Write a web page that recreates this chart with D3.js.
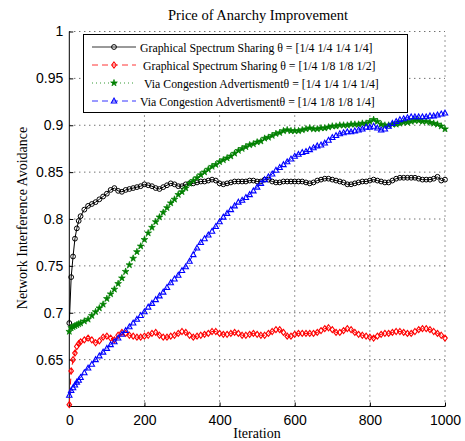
<!DOCTYPE html>
<html><head><meta charset="utf-8">
<script src="https://cdn.jsdelivr.net/npm/d3@7"></script>
<style>body{margin:0;background:#fff}svg{display:block}</style>
</head><body>
<script>
const iterations = [0,5,10,15,20,25,30,40,50,60,70,80,90,100,110,120,130,140,150,160,170,180,190,200,210,220,230,240,250,260,270,280,290,300,310,320,330,340,350,360,370,380,390,400,410,420,430,440,450,460,470,480,490,500,510,520,530,540,550,560,570,580,590,600,610,620,630,640,650,660,670,680,690,700,710,720,730,740,750,760,770,780,790,800,810,820,830,840,850,860,870,880,890,900,910,920,930,940,950,960,970,980,990,1000];
const gssEqual = [0.689,0.738,0.760,0.779,0.790,0.798,0.803,0.810,0.814,0.816,0.818,0.821,0.824,0.827,0.831,0.833,0.830,0.829,0.831,0.832,0.833,0.834,0.835,0.837,0.836,0.835,0.833,0.832,0.834,0.836,0.838,0.837,0.835,0.835,0.837,0.838,0.838,0.839,0.840,0.840,0.841,0.842,0.841,0.838,0.837,0.838,0.839,0.840,0.840,0.840,0.840,0.841,0.841,0.840,0.840,0.842,0.842,0.840,0.839,0.839,0.840,0.840,0.840,0.840,0.840,0.840,0.839,0.838,0.839,0.841,0.842,0.843,0.843,0.842,0.841,0.840,0.839,0.837,0.837,0.838,0.839,0.840,0.840,0.841,0.842,0.841,0.840,0.839,0.839,0.841,0.843,0.844,0.844,0.844,0.844,0.844,0.843,0.842,0.842,0.842,0.843,0.845,0.841,0.842];
const gssUnequal = [0.602,0.638,0.650,0.657,0.664,0.667,0.669,0.671,0.673,0.671,0.668,0.670,0.674,0.675,0.673,0.671,0.676,0.679,0.678,0.676,0.675,0.674,0.674,0.675,0.676,0.678,0.679,0.676,0.674,0.674,0.675,0.676,0.678,0.680,0.679,0.676,0.674,0.675,0.676,0.677,0.678,0.680,0.680,0.678,0.677,0.677,0.678,0.679,0.678,0.676,0.676,0.677,0.678,0.677,0.676,0.676,0.678,0.680,0.682,0.682,0.679,0.675,0.675,0.677,0.678,0.678,0.678,0.678,0.678,0.679,0.681,0.683,0.684,0.682,0.679,0.679,0.681,0.683,0.682,0.679,0.677,0.676,0.675,0.674,0.673,0.675,0.677,0.678,0.678,0.679,0.680,0.680,0.679,0.678,0.678,0.680,0.682,0.683,0.683,0.682,0.680,0.678,0.676,0.673];
const vcaEqual = [0.680,0.684,0.685,0.686,0.687,0.688,0.689,0.691,0.693,0.697,0.701,0.705,0.709,0.715,0.720,0.725,0.731,0.737,0.744,0.751,0.758,0.765,0.771,0.778,0.785,0.791,0.797,0.802,0.807,0.812,0.817,0.821,0.826,0.829,0.833,0.838,0.841,0.844,0.847,0.850,0.853,0.856,0.858,0.861,0.863,0.865,0.867,0.870,0.873,0.875,0.877,0.879,0.880,0.882,0.883,0.886,0.887,0.889,0.891,0.892,0.894,0.895,0.894,0.894,0.894,0.895,0.896,0.897,0.896,0.896,0.897,0.897,0.898,0.899,0.899,0.900,0.900,0.900,0.901,0.901,0.901,0.902,0.902,0.904,0.906,0.904,0.901,0.900,0.900,0.901,0.901,0.902,0.903,0.903,0.904,0.905,0.905,0.904,0.904,0.903,0.902,0.901,0.899,0.896];
const vcaUnequal = [0.612,0.617,0.620,0.623,0.626,0.628,0.631,0.636,0.641,0.645,0.650,0.654,0.658,0.662,0.666,0.669,0.673,0.677,0.681,0.685,0.689,0.693,0.697,0.701,0.706,0.710,0.714,0.718,0.722,0.727,0.732,0.736,0.740,0.745,0.749,0.755,0.762,0.769,0.775,0.779,0.783,0.787,0.792,0.797,0.802,0.806,0.810,0.814,0.818,0.820,0.823,0.826,0.830,0.834,0.838,0.842,0.845,0.848,0.852,0.855,0.858,0.861,0.864,0.867,0.869,0.871,0.872,0.874,0.876,0.878,0.879,0.881,0.884,0.887,0.889,0.891,0.892,0.893,0.893,0.894,0.895,0.896,0.898,0.898,0.899,0.897,0.895,0.896,0.899,0.902,0.904,0.906,0.907,0.908,0.909,0.909,0.909,0.909,0.909,0.910,0.910,0.911,0.912,0.913];
const seriesNames = ["Graphical Spectrum Sharing θ = [1/4 1/4 1/4 1/4]","Graphical Spectrum Sharing θ = [1/4 1/8 1/8 1/2]","Via Congestion Advertismentθ = [1/4 1/4 1/4 1/4]","Via Congestion Advertismentθ = [1/4 1/8 1/8 1/4]"];
const xTicks = [0,200,400,600,800,1000];
const yTicks = [0.65,0.7,0.75,0.8,0.85,0.9,0.95,1];
const yTickLabels = ["0.65","0.7","0.75","0.8","0.85","0.9","0.95","1"];

const W = 465, H = 441;
const svg = d3.select("body").append("svg").attr("width", W).attr("height", H);
const x = d3.scaleLinear().domain([0, 1000]).range([69.3, 445]);
const y = d3.scaleLinear().domain([0.6, 1]).range([406.5, 31.5]);
const serif = "'Liberation Serif','Times New Roman',serif";
const sans = "'Liberation Sans',Arial,Helvetica,sans-serif";

// grid
const g = svg.append("g");
g.selectAll(".gx").data(xTicks.slice(1)).join("line")
  .attr("x1", d => x(d)).attr("x2", d => x(d)).attr("y1", y(0.6)).attr("y2", y(1))
  .attr("stroke", "#333").attr("stroke-width", 1).attr("stroke-dasharray", "1,4");
g.selectAll(".gy").data(yTicks).join("line")
  .attr("x1", x(0)).attr("x2", x(1000)).attr("y1", d => y(d)).attr("y2", d => y(d))
  .attr("stroke", "#333").attr("stroke-width", 1).attr("stroke-dasharray", "1,4");

// axes
const xAxis = d3.axisBottom(x).tickValues(xTicks).tickSize(-4).tickPadding(9).tickFormat(d3.format("d"));
const yAxis = d3.axisLeft(y).tickValues(yTicks).tickSize(-4).tickPadding(6).tickFormat((d, i) => yTickLabels[i]);
const gx = svg.append("g").attr("transform", `translate(0,${y(0.6)})`).call(xAxis);
const gy = svg.append("g").attr("transform", `translate(${x(0)},0)`).call(yAxis);
[gx, gy].forEach(a => {
  a.select(".domain").attr("stroke", "#000").attr("stroke-width", 1);
  a.selectAll(".tick line").attr("stroke", "#000");
  a.selectAll("text").attr("font-family", sans).attr("font-size", 14).attr("fill", "#000");
});
gx.select(".domain").attr("d", `M${x(0)},0H${x(1000)}`);
gy.select(".domain").attr("d", `M0,${y(0.6)}V${y(1)}`);

// series
const series = [
  {vals: gssEqual, color: "#000000", dash: null, sym: "circle"},
  {vals: gssUnequal, color: "#ff0000", dash: "6,4", sym: "diamond"},
  {vals: vcaEqual, color: "#008000", dash: "1,3", sym: "star"},
  {vals: vcaUnequal, color: "#0000ff", dash: "6,4", sym: "triangle"}
];
function marker(sel, s) {
  if (s.sym === "circle") {
    sel.append("circle").attr("r", 2.4).attr("fill", "none").attr("stroke", s.color).attr("stroke-width", 1);
  } else if (s.sym === "diamond") {
    sel.append("path").attr("d", "M0,-3L2.3,0L0,3L-2.3,0Z").attr("fill", "none").attr("stroke", s.color).attr("stroke-width", 1.1);
  } else if (s.sym === "star") {
    sel.append("path").attr("d", d3.symbol(d3.symbolStar, 14)()).attr("fill", s.color).attr("stroke", s.color).attr("stroke-width", 0.7);
  } else {
    sel.append("path").attr("d", "M0,-2.9L2.7,2L-2.7,2Z").attr("fill", "none").attr("stroke", s.color).attr("stroke-width", 1.1);
  }
}
const line = d3.line().x((d, i) => x(iterations[i])).y(d => y(d));
series.forEach(s => {
  const sg = svg.append("g");
  sg.append("path").attr("d", line(s.vals)).attr("fill", "none").attr("stroke", s.color)
    .attr("stroke-width", 1).attr("stroke-dasharray", s.dash);
  sg.selectAll("g.m").data(s.vals).join("g")
    .attr("transform", (d, i) => `translate(${x(iterations[i])},${y(d)})`)
    .each(function() { marker(d3.select(this), s); });
});

// title and labels
svg.append("text").attr("x", 258).attr("y", 20).attr("text-anchor", "middle")
  .attr("font-family", serif).attr("font-size", 14.5).text("Price of Anarchy Improvement");
svg.append("text").attr("x", 257).attr("y", 438).attr("text-anchor", "middle")
  .attr("font-family", serif).attr("font-size", 14).text("Iteration");
svg.append("text").attr("transform", "translate(27,218) rotate(-90)").attr("text-anchor", "middle")
  .attr("font-family", serif).attr("font-size", 14).text("Network Interference Avoidance");

// legend
const lg = svg.append("g");
lg.append("rect").attr("x", 83.5).attr("y", 34.5).attr("width", 324).attr("height", 78)
  .attr("fill", "#fff").attr("stroke", "#000").attr("stroke-width", 1);
const textX = [140, 143, 144, 140];
series.forEach((s, i) => {
  const yy = 47 + i * 18;
  lg.append("line").attr("x1", 92).attr("x2", 136).attr("y1", yy).attr("y2", yy)
    .attr("stroke", s.color).attr("stroke-width", 0.8).attr("stroke-dasharray", s.dash);
  const m = lg.append("g").attr("transform", `translate(114,${yy})`);
  marker(m, s);
  lg.append("text").attr("x", textX[i]).attr("y", yy + 4.5).attr("font-family", serif)
    .attr("font-size", 11.8).attr("fill", "#000").text(seriesNames[i]);
});
</script>
</body></html>
